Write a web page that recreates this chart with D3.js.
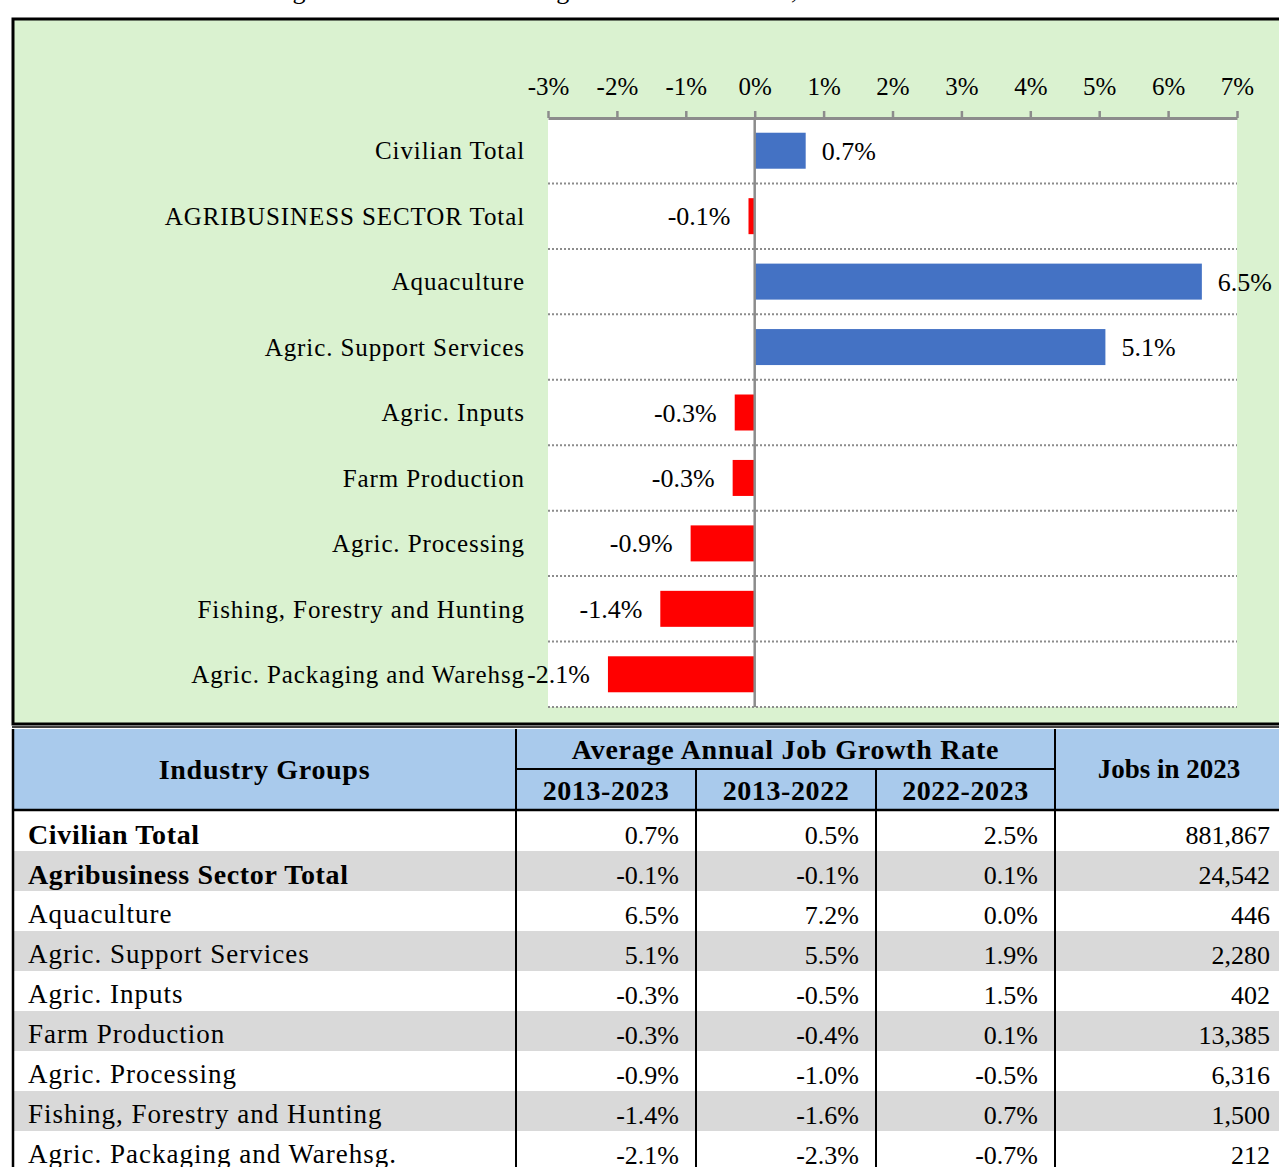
<!DOCTYPE html>
<html>
<head>
<meta charset="utf-8">
<script src="https://cdn.jsdelivr.net/npm/d3@7"></script>
<style>
  body { margin: 0; background: #fff; }
  svg { display: block; font-family: "Liberation Serif", "Times New Roman", serif; }
</style>
</head>
<body>
<div id="chart"></div>
<script>
const width = 1279;
const height = 1167;

// chart data
const categories = ["Civilian Total", "AGRIBUSINESS SECTOR Total", "Aquaculture", "Agric. Support Services",
    "Agric. Inputs", "Farm Production", "Agric. Processing", "Fishing, Forestry and Hunting", "Agric. Packaging and Warehsg"];
const growthValues = [0.0074, -0.0009, 0.0649, 0.0509, -0.0029, -0.0032, -0.0093, -0.0137, -0.0213];
const tickValues = [-0.03, -0.02, -0.01, 0, 0.01, 0.02, 0.03, 0.04, 0.05, 0.06, 0.07];

// table data
const tableGroups = ["Civilian Total", "Agribusiness Sector Total", "Aquaculture", "Agric. Support Services",
    "Agric. Inputs", "Farm Production", "Agric. Processing", "Fishing, Forestry and Hunting", "Agric. Packaging and Warehsg."];
const boldRows = [true, true, false, false, false, false, false, false, false];
const rate2013_2023 = [0.007, -0.001, 0.065, 0.051, -0.003, -0.003, -0.009, -0.014, -0.021];
const rate2013_2022 = [0.005, -0.001, 0.072, 0.055, -0.005, -0.004, -0.010, -0.016, -0.023];
const rate2022_2023 = [0.025, 0.001, 0.000, 0.019, 0.015, 0.001, -0.005, 0.007, -0.007];
const jobs2023 = [881867, 24542, 446, 2280, 402, 13385, 6316, 1500, 212];
const periodHeaders = ["2013-2023", "2013-2022", "2022-2023"];

const locale = d3.formatLocale({ decimal: ".", thousands: ",", grouping: [3], currency: ["$", ""], minus: "-" });
const pct1 = locale.format(".1%");
const intFmt = locale.format(",");

const svg = d3.select("#chart").append("svg")
    .attr("width", width)
    .attr("height", height);

// title, mostly above the visible page like in the source
svg.append("text")
    .attr("x", 30)
    .attr("y", -1)
    .attr("font-size", "26px")
    .attr("fill", "#000")
    .text("Table 1. Job Growth in Agribusiness Sector: Average Annual Job Growth, 2013-2023");

// green chart panel
svg.append("rect")
    .attr("x", 13).attr("y", 19)
    .attr("width", 1300).attr("height", 705)
    .attr("fill", "#daf2d0")
    .attr("stroke", "#000")
    .attr("stroke-width", 3);
svg.append("line")
    .attr("x1", 12).attr("x2", 1279)
    .attr("y1", 727).attr("y2", 727)
    .attr("stroke", "#000").attr("stroke-width", 1.5);

const x = d3.scaleLinear().domain([-0.03, 0.07]).range([548, 1237]);
const y = d3.scaleBand().domain(categories).range([118, 707]).paddingInner(0.45).paddingOuter(0.225);

// plot area
svg.append("rect")
    .attr("x", x(-0.03)).attr("y", 118)
    .attr("width", x(0.07) - x(-0.03)).attr("height", 707 - 118)
    .attr("fill", "#fff");

// dotted gridlines at band boundaries
const step = y.step();
svg.append("g").selectAll("line")
    .data(categories)
    .join("line")
    .attr("x1", x(-0.03)).attr("x2", x(0.07))
    .attr("y1", (d, i) => 118 + step * (i + 1))
    .attr("y2", (d, i) => 118 + step * (i + 1))
    .attr("stroke", "#8c8c8c")
    .attr("stroke-width", 2)
    .attr("stroke-dasharray", "2,2");

// bars
svg.append("g").selectAll("rect")
    .data(categories)
    .join("rect")
    .attr("x", (d, i) => x(Math.min(0, growthValues[i])))
    .attr("y", d => y(d))
    .attr("width", (d, i) => Math.abs(x(growthValues[i]) - x(0)))
    .attr("height", y.bandwidth())
    .attr("fill", (d, i) => growthValues[i] >= 0 ? "#4472c4" : "#ff0000");

// zero line
svg.append("line")
    .attr("x1", x(0)).attr("x2", x(0))
    .attr("y1", 118).attr("y2", 707)
    .attr("stroke", "#8c8c8c")
    .attr("stroke-width", 2.5);

// top axis
const axis = svg.append("g")
    .attr("transform", "translate(0,118)")
    .call(d3.axisTop(x)
        .tickValues(tickValues)
        .tickSize(7)
        .tickSizeOuter(0)
        .tickPadding(16)
        .tickFormat(d => Math.round(d * 100) + "%"));
axis.select(".domain").attr("stroke", "#8c8c8c").attr("stroke-width", 3);
axis.selectAll(".tick line").attr("stroke", "#8c8c8c").attr("stroke-width", 2.5);
axis.selectAll(".tick text")
    .attr("font-family", "'Liberation Serif', 'Times New Roman', serif")
    .attr("font-size", "25px")
    .attr("fill", "#000");

// category labels
svg.append("g").selectAll("text")
    .data(categories)
    .join("text")
    .attr("x", 525)
    .attr("y", d => y(d) + y.bandwidth() / 2)
    .attr("dy", "0.35em")
    .attr("text-anchor", "end")
    .attr("font-size", "25px")
    .attr("letter-spacing", "0.9px")
    .attr("fill", "#000")
    .text(d => d);

// value labels
svg.append("g").selectAll("text")
    .data(categories)
    .join("text")
    .attr("x", (d, i) => growthValues[i] >= 0 ? x(growthValues[i]) + 16 : x(growthValues[i]) - 18)
    .attr("y", d => y(d) + y.bandwidth() / 2)
    .attr("dy", "0.35em")
    .attr("text-anchor", (d, i) => growthValues[i] >= 0 ? "start" : "end")
    .attr("font-size", "26px")
    .attr("fill", "#000")
    .text((d, i) => pct1(growthValues[i]));

// ---- table ----
const colX = [13, 516, 696, 876, 1055, 1290];
const headTop = 729, headMid = 769, headBottom = 810;
const rowH = 40;

svg.append("rect")
    .attr("x", colX[0]).attr("y", headTop)
    .attr("width", width - colX[0]).attr("height", headBottom - headTop)
    .attr("fill", "#a9caec");

// striped rows
svg.append("g").selectAll("rect")
    .data(tableGroups)
    .join("rect")
    .attr("x", colX[0]).attr("y", (d, i) => headBottom + 1 + i * rowH)
    .attr("width", width - colX[0]).attr("height", rowH)
    .attr("fill", (d, i) => i % 2 === 1 ? "#d9d9d9" : "#fff");

// grid lines of table
const tLines = svg.append("g").attr("stroke", "#000");
tLines.append("line").attr("x1", colX[1]).attr("x2", colX[4]).attr("y1", headMid).attr("y2", headMid).attr("stroke-width", 2);
tLines.append("line").attr("x1", colX[0]).attr("x2", width).attr("y1", headBottom).attr("y2", headBottom).attr("stroke-width", 2.5);
tLines.append("line").attr("x1", colX[0]).attr("x2", colX[0]).attr("y1", headTop).attr("y2", height).attr("stroke-width", 2.5);
[colX[1], colX[4]].forEach(cx => {
    tLines.append("line").attr("x1", cx).attr("x2", cx).attr("y1", headTop).attr("y2", height).attr("stroke-width", 2);
});
[colX[2], colX[3]].forEach(cx => {
    tLines.append("line").attr("x1", cx).attr("x2", cx).attr("y1", headMid).attr("y2", height).attr("stroke-width", 2);
});

// header texts
const head = svg.append("g")
    .attr("font-size", "28px")
    .attr("font-weight", "bold")
    .attr("text-anchor", "middle")
    .attr("fill", "#000");
head.append("text").attr("x", (colX[0] + colX[1]) / 2).attr("y", (headTop + headBottom) / 2).attr("dy", "0.35em")
    .attr("letter-spacing", "0.7px").text("Industry Groups");
head.append("text").attr("x", (colX[1] + colX[4]) / 2).attr("y", (headTop + headMid) / 2).attr("dy", "0.35em")
    .attr("letter-spacing", "0.75px").text("Average Annual Job Growth Rate");
head.append("text").attr("x", (colX[4] + 1283) / 2).attr("y", (headTop + headBottom) / 2).attr("dy", "0.3em")
    .attr("font-size", "27px").text("Jobs in 2023");
head.selectAll(".period")
    .data(periodHeaders)
    .join("text")
    .attr("class", "period")
    .attr("x", (d, i) => (colX[i + 1] + colX[i + 2]) / 2)
    .attr("y", (headMid + headBottom) / 2 + 1)
    .attr("dy", "0.35em")
    .attr("letter-spacing", "0.6px")
    .text(d => d);

// body texts
const body = svg.append("g").attr("font-size", "26px").attr("fill", "#000");
const rowY = i => headBottom + 1 + i * rowH + rowH / 2 + 4;

body.selectAll(".group")
    .data(tableGroups)
    .join("text")
    .attr("class", "group")
    .attr("x", 28)
    .attr("y", (d, i) => rowY(i) - 1)
    .attr("dy", "0.35em")
    .attr("font-weight", (d, i) => boldRows[i] ? "bold" : "normal")
    .attr("font-size", (d, i) => boldRows[i] ? "28px" : "27px")
    .attr("letter-spacing", (d, i) => boldRows[i] ? "0.65px" : "1px")
    .text(d => d);

const numCols = [rate2013_2023, rate2013_2022, rate2022_2023];
numCols.forEach((col, c) => {
    body.append("g").selectAll("text")
        .data(col)
        .join("text")
        .attr("x", colX[c + 2] - 17)
        .attr("y", (d, i) => rowY(i))
        .attr("dy", "0.35em")
        .attr("text-anchor", "end")
        .text(d => pct1(d));
});

body.append("g").selectAll("text")
    .data(jobs2023)
    .join("text")
    .attr("x", 1270)
    .attr("y", (d, i) => rowY(i))
    .attr("dy", "0.35em")
    .attr("text-anchor", "end")
    .text(d => intFmt(d));
</script>
</body>
</html>
